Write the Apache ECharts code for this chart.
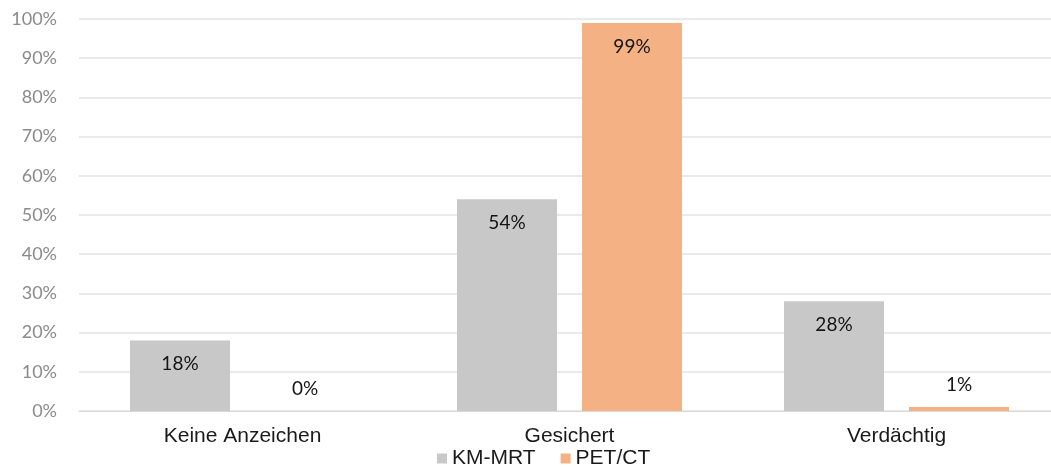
<!DOCTYPE html>
<html>
<head>
<meta charset="utf-8">
<script src="https://cdn.jsdelivr.net/npm/echarts@6/dist/echarts.min.js"></script>
<style>
  html, body { margin: 0; padding: 0; background: #fff; overflow: hidden; }
  /* plot runs slightly past the right edge of the window */
  #chart { width: 1060px; height: 468px; }
</style>
</head>
<body>
<div id="chart"></div>
<script>
const categories = ['Keine Anzeichen', 'Gesichert', 'Verdächtig'];
const kmMrt = [18, 54, 28];
const petCt = [0, 99, 1];
const yTicks = [0, 10, 20, 30, 40, 50, 60, 70, 80, 90, 100];

// Small values get their label above the bar, others inside at the top
function withLabels(values) {
  return values.map(v => ({
    value: v,
    label: v < 5
      ? { position: 'top', distance: 13 }
      : { position: 'insideTop', distance: 14 }
  }));
}

const labelStyle = {
  show: true,
  formatter: p => p.value + '%',
  color: '#141414',
  fontFamily: 'Lato, "Open Sans", sans-serif',
  fontSize: 19
};

const chart = echarts.init(document.getElementById('chart'), null, { renderer: 'canvas' });
chart.setOption({
  animation: false,
  grid: { left: 79, right: 0, top: 19, bottom: 57, containLabel: false },
  legend: {
    bottom: -6,
    left: 432,
    itemWidth: 10,
    itemHeight: 10,
    itemGap: 25,
    icon: 'rect',
    textStyle: { fontFamily: '"Liberation Sans", Arial, sans-serif', fontSize: 21, color: '#1a1a1a' },
    data: ['KM-MRT', 'PET/CT']
  },
  xAxis: {
    type: 'category',
    data: categories,
    axisTick: { show: false },
    axisLine: { lineStyle: { color: '#d9d9d9', width: 1 } },
    axisLabel: {
      fontFamily: '"Liberation Sans", Arial, sans-serif',
      fontSize: 21,
      color: '#1a1a1a',
      margin: 15
    }
  },
  yAxis: {
    type: 'value',
    min: yTicks[0],
    max: yTicks[yTicks.length - 1],
    interval: 10,
    axisLine: { show: false },
    axisTick: { show: false },
    splitLine: { lineStyle: { color: '#e3e3e3', width: 1.5 } },
    axisLabel: {
      formatter: v => v + '%',
      fontFamily: 'Lato, "Open Sans", sans-serif',
      fontSize: 18,
      color: '#8a8a8a',
      margin: 22
    }
  },
  series: [
    {
      name: 'KM-MRT',
      type: 'bar',
      data: withLabels(kmMrt),
      itemStyle: { color: '#c8c8c8' },
      barWidth: 100,
      barGap: '25%',
      label: labelStyle
    },
    {
      name: 'PET/CT',
      type: 'bar',
      data: withLabels(petCt),
      itemStyle: { color: '#f4b183' },
      barWidth: 100,
      label: labelStyle
    }
  ]
});
</script>
</body>
</html>
